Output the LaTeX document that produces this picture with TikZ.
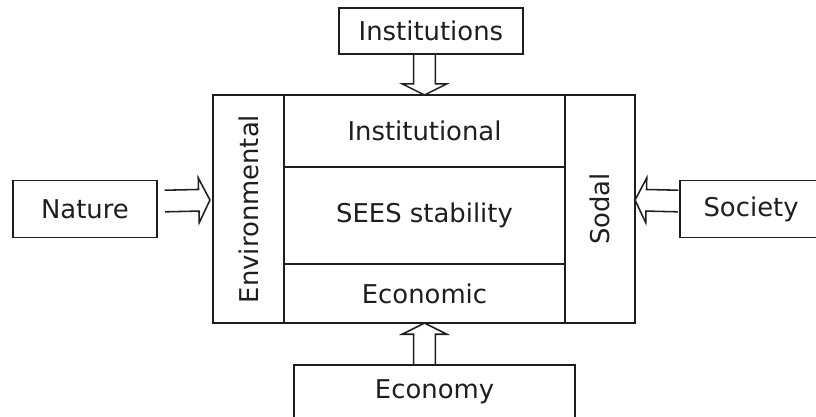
\documentclass[tikz,border=0pt]{standalone}
\usepackage{fontspec}
\setmainfont{DejaVu Sans}
\usepackage{graphicx}
\usetikzlibrary{positioning,calc}
\definecolor{inkgray}{RGB}{30,30,30}
\tikzset{
  box/.style={rectangle,draw=inkgray,line width=1.2pt,inner sep=2pt,
              outer sep=0pt,text=inkgray,
              font=\fontsize{18.4}{22}\selectfont},
  blockarrow/.style={draw=inkgray,line width=1.1pt,
    to path={let \p1=(\tikztostart), \p2=(\tikztotarget),
                 \p3=($(\p2)!0.28cm!(\p1)$) in
      ($(\p1)!0.27cm!90:(\p2)$) -- ($(\p3)!0.27cm!90:(\p2)$)
      -- ($(\p3)!0.56cm!90:(\p2)$) -- (\p2)
      -- ($(\p3)!0.56cm!-90:(\p2)$) -- ($(\p3)!0.27cm!-90:(\p2)$)
      -- ($(\p1)!0.27cm!-90:(\p2)$)}},
}
\begin{document}
\begin{tikzpicture}[x=0.025cm,y=-0.025cm]
  \useasboundingbox (0,0) rectangle (816,416);
  \clip (0,0) rectangle (816,416);
  % centre column
  \node[box,minimum width=7.025cm,minimum height=1.8cm]
    (instrow) at (424.5,131) {Institutional};
  \node[box,minimum width=7.025cm,minimum height=2.425cm,below=0pt of instrow]
    (sees) {SEES stability};
  \node[box,minimum width=7.025cm,minimum height=1.475cm,below=0pt of sees]
    (econrow) {Economic};
  % side columns
  \node[box,minimum width=1.775cm,minimum height=5.7cm,anchor=north east]
    (env) at (instrow.north west) {\rotatebox{90}{Environmental}};
  \node[box,minimum width=1.75cm,minimum height=5.7cm,anchor=north west]
    (soc) at (instrow.north east) {\rotatebox{90}{Sodal}};
  % outer boxes
  \node[box,minimum width=4.6cm,minimum height=1.15cm,
        above=1.025cm of instrow,xshift=0.16cm] (inst) {Institutions};
  \node[box,minimum width=7.025cm,minimum height=1.35cm,
        below=1.05cm of econrow,xshift=0.25cm] (econ) {Economy};
  \node[box,minimum width=3.6cm,minimum height=1.425cm,
        left=1.4cm of env] (nat) {Nature};
  \node[box,minimum width=3.55cm,minimum height=1.425cm,
        right=1.125cm of soc] (socy) {Society};
  % block arrows
  \draw[blockarrow] (inst.south -| instrow.north) to (instrow.north);
  \draw[blockarrow] (econ.north -| econrow.south) to (econrow.south);
  \draw[blockarrow] ([xshift=0.2cm,yshift=0.2cm]nat.east)
    to ([xshift=-0.075cm,yshift=0.225cm]env.west);
  \draw[blockarrow] ([xshift=-0.05cm,yshift=0.2cm]socy.west)
    to ([yshift=0.225cm]soc.east);
\end{tikzpicture}
\end{document}
